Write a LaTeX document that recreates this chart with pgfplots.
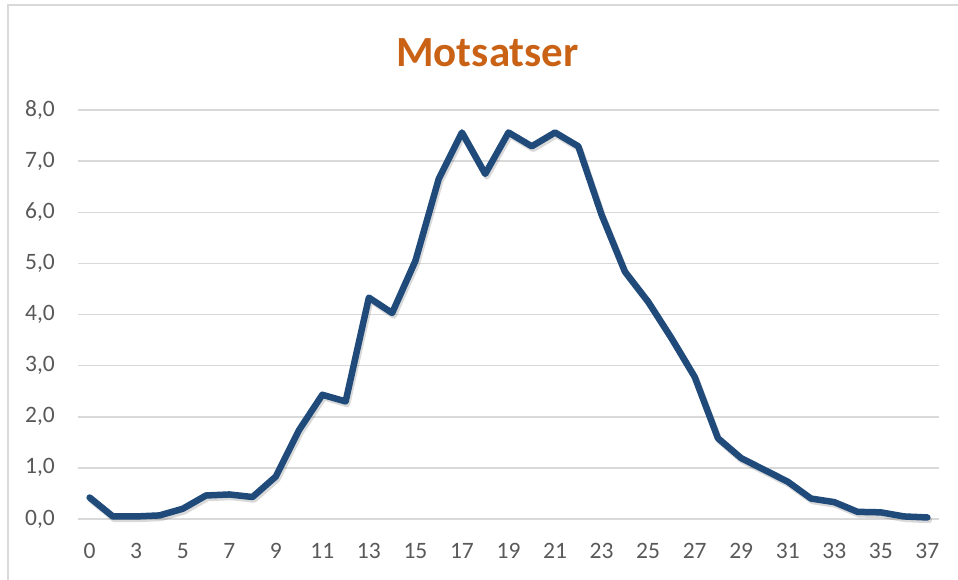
\documentclass[border=0pt]{standalone}
\usepackage{fontspec}
\setmainfont{Carlito}
\usepackage{pgfplots}
\usepackage{pgfplotstable}
\pgfplotsset{compat=1.18}
\definecolor{linecol}{HTML}{1F4A7A}
\definecolor{titlecol}{HTML}{CA6216}
\definecolor{gridcol}{HTML}{D9D9D9}
\definecolor{labelcol}{HTML}{595959}
\pgfplotstableread{
idx val
0 0.42
1 0.05
2 0.05
3 0.07
4 0.20
5 0.46
6 0.48
7 0.43
8 0.83
9 1.74
10 2.43
11 2.30
12 4.33
13 4.03
14 5.05
15 6.65
16 7.56
17 6.75
18 7.56
19 7.29
20 7.56
21 7.29
22 5.95
23 4.84
24 4.25
25 3.54
26 2.78
27 1.58
28 1.19
29 0.96
30 0.73
31 0.40
32 0.33
33 0.14
34 0.13
35 0.05
36 0.03
}\datatable
\begin{document}
\begin{tikzpicture}[x=1pt,y=1pt]
\useasboundingbox (0,0) rectangle (958,579);
\clip (0,0) rectangle (958,579);
\draw[gridcol, line width=2pt] (8,-10) -- (8,574) -- (970,574);
\node[font=\fontsize{43}{50}\selectfont\bfseries, text=titlecol, anchor=base, inner sep=0pt] at (487.5,512.3) {Motsatser};
\begin{axis}[
  at={(78pt,60pt)}, anchor=south west,
  scale only axis, width=861pt, height=409pt,
  xmin=-0.5, xmax=36.5, ymin=0, ymax=8,
  xtick={0,2,...,36},
  xticklabels={0,3,5,7,9,11,13,15,17,19,21,23,25,27,29,31,33,35,37},
  ytick={0,1,...,8},
  ymajorgrids,
  major grid style={draw=gridcol, line width=1.5pt},
  axis line style={draw=none},
  major tick length=0pt,
  tick label style={font=\fontsize{23.5}{28}\selectfont, text=labelcol},
  xticklabel style={inner sep=0pt, anchor=north, yshift=-24pt},
  yticklabel style={inner sep=0pt, anchor=east, xshift=-23pt},
  /pgf/number format/.cd, fixed, fixed zerofill, precision=1, use comma, assume math mode=true,
  /pgfplots/.cd,
  clip=false,
]
\addplot[black, opacity=0.15, line width=6.5pt, line join=round, line cap=round, xshift=1.5pt, yshift=-2.5pt, mark=none] table[x=idx, y=val] {\datatable};
\addplot[linecol, line width=6.5pt, line join=round, line cap=round, mark=none] table[x=idx, y=val] {\datatable};
\end{axis}
\end{tikzpicture}
\end{document}
